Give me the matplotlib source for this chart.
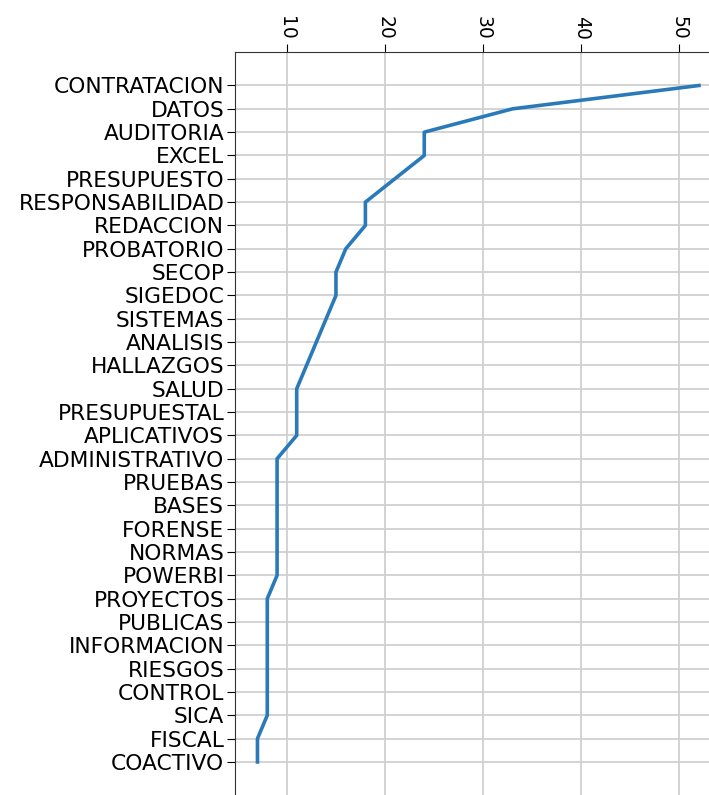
import matplotlib
matplotlib.use("Agg")
import matplotlib.pyplot as plt

# skill keywords and their counts
keywords = [
    "CONTRATACION", "DATOS", "AUDITORIA", "EXCEL", "PRESUPUESTO",
    "RESPONSABILIDAD", "REDACCION", "PROBATORIO", "SECOP", "SIGEDOC",
    "SISTEMAS", "ANALISIS", "HALLAZGOS", "SALUD", "PRESUPUESTAL",
    "APLICATIVOS", "ADMINISTRATIVO", "PRUEBAS", "BASES", "FORENSE",
    "NORMAS", "POWERBI", "PROYECTOS", "PUBLICAS", "INFORMACION",
    "RIESGOS", "CONTROL", "SICA", "FISCAL", "COACTIVO",
]
counts = [
    52, 33, 24, 24, 21,
    18, 18, 16, 15, 15,
    14, 13, 12, 11, 11,
    11, 9, 9, 9, 9,
    9, 9, 8, 8, 8,
    8, 8, 8, 7, 7,
]
x_ticks = [10, 20, 30, 40, 50]

fig = plt.figure(figsize=(7.09, 7.95), dpi=100)
ax = fig.add_axes([0.332, -0.001, 0.685, 0.936])

ax.plot(counts, keywords, color="#2a7ab9", linewidth=2.6)
ax.invert_yaxis()

ax.xaxis.tick_top()
ax.set_xticks(x_ticks)
ax.tick_params(axis="x", labelrotation=-90, labelsize=13.5, length=5.5, pad=3)
ax.tick_params(axis="y", labelsize=15.7, length=5.5, pad=2.5)
ax.grid(True, color="#d0d0d0", linewidth=1.3)
for side in ["left", "top"]:
    ax.spines[side].set_color("#333333")

fig.savefig("out.png", dpi=100)
